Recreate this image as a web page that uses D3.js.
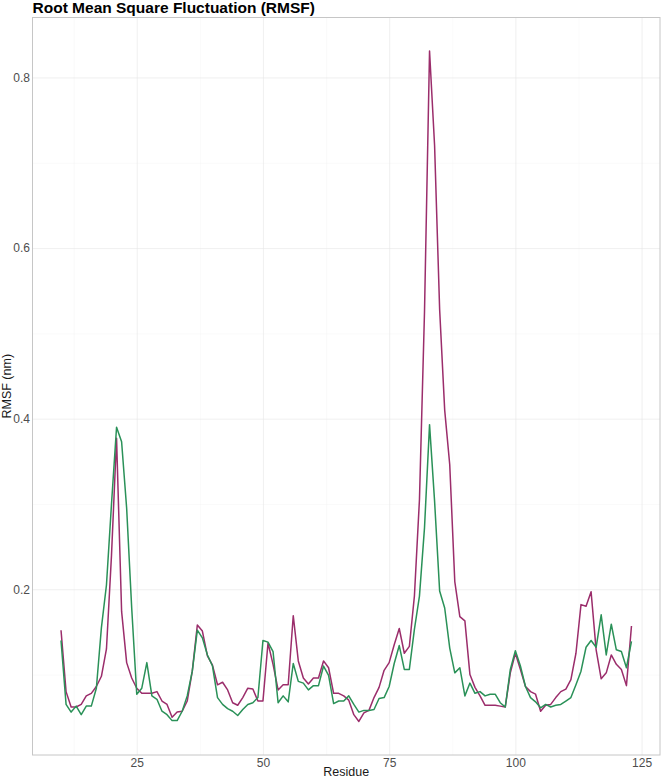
<!DOCTYPE html>
<html lang="en">
<head>
    <meta charset="utf-8">
    <script src="https://d3js.org/d3.v7.min.js"></script>
    <style>
        body {
            margin: 0;
            font-family: 'Liberation Sans', Arial, sans-serif;
            background: white;
        }
        .title {
            font-size: 15.5px;
            font-weight: bold;
            fill: #000;
        }
        .axis text {
            font-size: 12px;
            fill: #4d4d4d;
            font-family: 'Liberation Sans', Arial, sans-serif;
        }
        .axis path {
            display: none;
        }
        .axis-title {
            font-size: 12.5px;
            fill: #1a1a1a;
            text-anchor: middle;
        }
        .grid-major line {
            stroke: #e6e6e6;
            stroke-width: 0.6px;
        }
        .grid-minor line {
            stroke: #f3f3f3;
            stroke-width: 0.4px;
        }
        .grid-major path, .grid-minor path {
            display: none;
        }
        .line {
            fill: none;
            stroke-width: 1.5px;
            stroke-linejoin: round;
        }
    </style>
</head>
<body>
<script>
    // Residue numbers
    var residues = [10, 11, 12, 13, 14, 15, 16, 17, 18, 19, 20, 21, 22, 23, 24, 25, 26, 27, 28, 29,
        30, 31, 32, 33, 34, 35, 36, 37, 38, 39, 40, 41, 42, 43, 44, 45, 46, 47, 48, 49,
        50, 51, 52, 53, 54, 55, 56, 57, 58, 59, 60, 61, 62, 63, 64, 65, 66, 67, 68, 69,
        70, 71, 72, 73, 74, 75, 76, 77, 78, 79, 80, 81, 82, 83, 84, 85, 86, 87, 88, 89,
        90, 91, 92, 93, 94, 95, 96, 97, 98, 99, 100, 101, 102, 103, 104, 105, 106, 107, 108, 109,
        110, 111, 112, 113, 114, 115, 116, 117, 118, 119, 120, 121, 122, 123];

    // RMSF (nm), purple run
    var rmsfPurple = [0.152, 0.080, 0.062, 0.062, 0.065, 0.075, 0.078, 0.086, 0.098, 0.130,
        0.240, 0.377, 0.174, 0.114, 0.096, 0.084, 0.078, 0.078, 0.078, 0.080,
        0.069, 0.065, 0.050, 0.056, 0.057, 0.069, 0.104, 0.158, 0.151, 0.122,
        0.111, 0.088, 0.091, 0.082, 0.067, 0.064, 0.073, 0.084, 0.083, 0.069,
        0.069, 0.137, 0.112, 0.082, 0.088, 0.088, 0.169, 0.116, 0.096, 0.089,
        0.096, 0.096, 0.116, 0.108, 0.078, 0.078, 0.075, 0.070, 0.053, 0.045,
        0.055, 0.058, 0.073, 0.085, 0.105, 0.114, 0.135, 0.154, 0.125, 0.133,
        0.192, 0.305, 0.525, 0.831, 0.720, 0.528, 0.410, 0.346, 0.209, 0.168,
        0.163, 0.100, 0.085, 0.075, 0.064, 0.064, 0.064, 0.063, 0.062, 0.102,
        0.125, 0.106, 0.086, 0.080, 0.077, 0.057, 0.064, 0.065, 0.073, 0.080,
        0.083, 0.094, 0.125, 0.182, 0.180, 0.197, 0.129, 0.095, 0.102, 0.123,
        0.112, 0.106, 0.087, 0.157];

    // RMSF (nm), green run
    var rmsfGreen = [0.140, 0.065, 0.056, 0.063, 0.053, 0.063, 0.063, 0.084, 0.155, 0.205,
        0.300, 0.390, 0.373, 0.295, 0.178, 0.077, 0.084, 0.114, 0.075, 0.071,
        0.057, 0.053, 0.046, 0.046, 0.057, 0.075, 0.104, 0.152, 0.143, 0.123,
        0.110, 0.073, 0.065, 0.060, 0.057, 0.052, 0.059, 0.065, 0.067, 0.073,
        0.140, 0.138, 0.127, 0.067, 0.075, 0.068, 0.113, 0.092, 0.090, 0.082,
        0.087, 0.087, 0.110, 0.099, 0.066, 0.069, 0.069, 0.075, 0.065, 0.056,
        0.058, 0.058, 0.059, 0.072, 0.073, 0.086, 0.113, 0.134, 0.106, 0.106,
        0.153, 0.192, 0.272, 0.393, 0.303, 0.198, 0.178, 0.131, 0.102, 0.108,
        0.075, 0.090, 0.078, 0.080, 0.075, 0.077, 0.077, 0.067, 0.062, 0.106,
        0.128, 0.110, 0.086, 0.073, 0.068, 0.061, 0.065, 0.062, 0.064, 0.065,
        0.069, 0.073, 0.088, 0.104, 0.132, 0.140, 0.132, 0.170, 0.123, 0.159,
        0.129, 0.127, 0.108, 0.139];

    // Tick labels
    var xTicks = [25, 50, 75, 100, 125];
    var xMinor = [12.5, 37.5, 62.5, 87.5, 112.5];
    var yTicks = [0.2, 0.4, 0.6, 0.8];
    var yMinor = [0.1, 0.3, 0.5, 0.7];

    var series = [
        {name: "purple", values: rmsfPurple, color: "#9b2d6b"},
        {name: "green", values: rmsfGreen, color: "#2a9158"}
    ];

    // Dimensions
    var totalWidth = 661;
    var totalHeight = 778;
    var margin = {top: 17.5, right: 1, bottom: 23, left: 32.5};
    var width = totalWidth - margin.left - margin.right;
    var height = totalHeight - margin.top - margin.bottom;

    var svg = d3.select("body").append("svg")
        .attr("width", totalWidth)
        .attr("height", totalHeight);

    var g = svg.append("g")
        .attr("transform", "translate(" + margin.left + "," + margin.top + ")");

    // ggplot-like 5% expansion
    var xExt = d3.extent(residues);
    var xPad = (xExt[1] - xExt[0]) * 0.05;
    var x = d3.scaleLinear()
        .domain([xExt[0] - xPad, xExt[1] + xPad])
        .range([0, width]);

    var yExt = d3.extent(rmsfPurple.concat(rmsfGreen));
    var yPad = (yExt[1] - yExt[0]) * 0.05;
    var y = d3.scaleLinear()
        .domain([yExt[0] - yPad, yExt[1] + yPad])
        .range([height, 0]);

    // Minor grid
    g.append("g")
        .attr("class", "grid-minor")
        .call(d3.axisLeft(y).tickValues(yMinor).tickSize(-width).tickFormat(""));
    g.append("g")
        .attr("class", "grid-minor")
        .attr("transform", "translate(0," + height + ")")
        .call(d3.axisBottom(x).tickValues(xMinor).tickSize(-height).tickFormat(""));

    // Major grid
    g.append("g")
        .attr("class", "grid-major")
        .call(d3.axisLeft(y).tickValues(yTicks).tickSize(-width).tickFormat(""));
    g.append("g")
        .attr("class", "grid-major")
        .attr("transform", "translate(0," + height + ")")
        .call(d3.axisBottom(x).tickValues(xTicks).tickSize(-height).tickFormat(""));

    // Lines
    var line = d3.line()
        .x(function(d, i) { return x(residues[i]); })
        .y(function(d) { return y(d); });

    g.selectAll(".line")
        .data(series)
        .enter().append("path")
        .attr("class", "line")
        .attr("stroke", function(d) { return d.color; })
        .attr("d", function(d) { return line(d.values); });

    // Panel border
    g.append("rect")
        .attr("x", 0)
        .attr("y", 0)
        .attr("width", width)
        .attr("height", height)
        .attr("fill", "none")
        .attr("stroke", "#c6c6c6")
        .attr("stroke-width", 1);

    // Axes
    g.append("g")
        .attr("class", "axis")
        .attr("transform", "translate(0," + height + ")")
        .call(d3.axisBottom(x).tickValues(xTicks).tickSize(0).tickPadding(3));

    g.append("g")
        .attr("class", "axis")
        .call(d3.axisLeft(y).tickValues(yTicks).tickSize(0).tickPadding(2.5)
            .tickFormat(d3.format(".1f")));

    // Axis titles
    svg.append("text")
        .attr("class", "axis-title")
        .attr("x", margin.left + width / 2)
        .attr("y", totalHeight - 2)
        .text("Residue");

    svg.append("text")
        .attr("class", "axis-title")
        .attr("transform", "rotate(-90)")
        .attr("x", -(margin.top + height / 2))
        .attr("y", 11)
        .text("RMSF (nm)");

    // Title
    svg.append("text")
        .attr("class", "title")
        .attr("x", margin.left)
        .attr("y", 13)
        .text("Root Mean Square Fluctuation (RMSF)");
</script>
</body>
</html>
